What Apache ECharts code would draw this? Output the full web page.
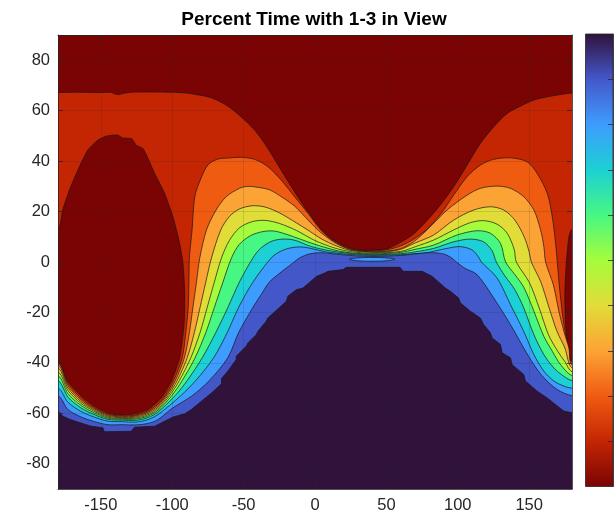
<!DOCTYPE html>
<html>
<head>
<meta charset="utf-8">
<script src="https://cdn.jsdelivr.net/npm/echarts@6/dist/echarts.min.js"></script>
<style>
  html, body { margin: 0; padding: 0; background: #ffffff; }
  #chart { width: 616px; height: 517px; }
</style>
</head>
<body>
<div id="chart"></div>
<script>
// Tick values
const X_TICKS = [-150, -100, -50, 0, 50, 100, 150];
const Y_TICKS = [-80, -60, -40, -20, 0, 20, 40, 60, 80];
const CBAR_TICKS = [10, 20, 30, 40, 50, 60, 70, 80, 90];

// Fill colours of the contour bands, lowest percentage first (reversed turbo)
const BAND_COLORS = ['#7a0403', '#c42503', '#f05b12', '#fca335', '#e2dc38',
                     '#a5fc3c', '#47f783', '#1cd0d5', '#3e9cfe', '#4457c9', '#30123b'];

// Contour lines as [longitude, latitude]; each band fills everything below its line
const RED_TOP = [[-180,67.2],[-165,67.3],[-150,67.2],[-143,67.3],[-140,66.6],[-137.5,66.4],[-134,66.9],
  [-129,67.3],[-115,67.4],[-100.6,67.3],[-90,67],[-84.2,66.5],[-72.5,65.1],[-61,61.8],[-51.7,57.5],
  [-42.3,52.3],[-33,45],[-23.7,36.4],[-14.3,27.8],[-4.9,19.9],[4.4,12.9],[13.8,8.4],[23.2,5.8],
  [32.5,4.75],[41.9,4.75],[51.2,5.4],[60.6,8.0],[69,11.1],[78.4,16.4],[87.8,22.6],[97.1,29.8],
  [106.5,38.4],[115.8,47],[125.2,53.6],[134.6,58.9],[143.9,61.8],[153.3,64.2],[162.7,65.5],[172,66.4],[180,67]];

// Zero-percent island in the west, and its wrap-around at the eastern edge
const WEST_ISLAND = [[-180,12.7],[-176.7,20.6],[-172,28.5],[-166.1,36.4],[-159.1,44.4],[-152.1,48.3],
  [-146.3,49.9],[-141,50.3],[-138.1,50.3],[-134.6,49.2],[-128.5,48.9],[-126.8,47.7],[-125.2,46.3],
  [-120.5,45],[-119,43.5],[-117,41.1],[-112.3,35.1],[-105.3,27.2],[-99.5,17.9],[-94.8,7.4],[-92.5,-0.5],
  [-91.3,-11.6],[-91.7,-24.8],[-94.8,-38],[-100.6,-47.3],[-107.6,-53.9],[-117,-58.5],[-126.4,-60.2],
  [-135.7,-60.7],[-145.1,-59.8],[-154.4,-57.2],[-163.8,-53.2],[-173.2,-47.3],[-180,-39.3]];
const EAST_SLIVER = [[180,13],[177.9,10],[176.8,4.75],[176,-0.5],[175,-11.6],[175.5,-24.8],[177.8,-35.4],[180,-39.3]];

const ORANGE_TOP = [[-180,-39.8],[-173,-48.2],[-164,-53.9],[-155,-57.6],[-145,-60.3],[-135,-61.1],[-126,-60.7],
  [-117,-59.1],[-110,-56.3],[-105,-53],[-99,-47],[-93,-38],[-90.5,-28],[-88.8,-18],[-88.3,-8],[-88,1.6],
  [-86.1,12.7],[-84.2,25.9],[-80,33],[-75,38.5],[-68,40.8],[-61,41.2],[-52,41.5],[-42.3,40.7],[-33,37.8],
  [-23.7,32.5],[-14.3,25.9],[-4.9,19.3],[4.4,12.5],[13.8,8.0],[23.2,5.4],[32.5,4.5],[42,4.4],[51,4.9],
  [60,6.4],[69,9],[78.5,13],[88,19],[97.1,26.5],[106.5,33.8],[115.8,38.4],[125.2,40.7],[136.9,41.3],
  [148.6,39.7],[155.6,35.1],[162.7,27.2],[166.2,17.9],[168.5,7.4],[169.7,0],[171.5,-11.6],[174.3,-24.8],
  [177.8,-35.4],[180,-39.8]];

const LIGHT_ORANGE_TOP = [[-180,-40.8],[-173,-49.1],[-164,-54.6],[-155,-58.1],[-145,-60.7],[-135,-61.4],
  [-126,-61.1],[-117,-59.6],[-110,-57],[-104,-53],[-97.8,-47],[-91.5,-38],[-88,-28],[-85.5,-18],[-83,-8],
  [-80.7,1.6],[-76,12.7],[-69.3,20.6],[-62.2,25.9],[-52.9,29.2],[-47,30],[-40,29.6],[-31.8,28.6],
  [-22.5,25.5],[-14,22],[-8.5,18.8],[0,13.8],[5.6,11],[15,7.3],[24.3,5.0],[34,4.2],[42,4.1],[50,4.3],
  [59.7,5.2],[69,8],[78.4,12.7],[92.5,20.6],[106.5,26.5],[115.8,29.2],[127.5,30.1],[136.9,29.2],
  [146.2,25.9],[153.3,20.6],[158,12.7],[160.3,6.1],[161.5,0],[166.9,-9],[170.8,-19.5],[174.3,-27.5],
  [177.8,-34.1],[180,-40.8]];

const YELLOW_TOP = [[-180,-42],[-173,-50],[-164,-55.3],[-155,-58.6],[-145,-61.1],[-135,-61.7],[-126,-61.5],
  [-117,-60.1],[-110,-57.6],[-103,-53],[-96.5,-47],[-89.5,-38],[-84.5,-28],[-80.5,-18],[-76.5,-8],
  [-72.5,1.6],[-66,12.7],[-60,18],[-53,21],[-44,22.3],[-35,21.8],[-25,19.5],[-13,15.5],[-4,12.3],[5,9],
  [14,6.6],[24,4.7],[34,4],[42,3.8],[50,4],[60,5],[70,7.5],[83.1,10.7],[97.1,16.6],[111.1,20.6],
  [122.8,21.9],[132.2,20.6],[140,16.6],[146.5,10],[150,4],[151.5,0],[158,-7.7],[164,-18.2],[169.5,-27.5],
  [175,-34.1],[180,-42]];

const YELLOW_GREEN_TOP = [[-180,-43.5],[-173,-51],[-164,-56],[-155,-59.1],[-145,-61.5],[-135,-62],
  [-126,-61.9],[-117,-60.6],[-110,-58.2],[-101.8,-53],[-95,-47],[-87,-38],[-80.5,-28],[-75.5,-18],
  [-70.5,-8],[-65.5,1.6],[-60,8.5],[-53,13.5],[-44,16],[-35,16.5],[-25,15.3],[-13,12.5],[0,8.5],[14,5.5],
  [24,4.2],[34,3.6],[42,3.5],[60,4.2],[70,6],[83.1,8.7],[97.1,12.7],[108.8,15.6],[118.1,16.4],[127.5,15],
  [134.6,11.4],[139.5,5],[141,0],[150,-8],[157,-18.2],[163.5,-28.8],[170,-35.4],[175,-39.5],[180,-43.5]];

const GREEN_TOP = [[-180,-45],[-173,-52.2],[-164,-56.8],[-155,-59.7],[-145,-61.9],[-135,-62.3],[-126,-62.3],
  [-117,-61.1],[-110,-58.8],[-100.3,-53],[-93,-47],[-84,-38],[-76.5,-28],[-70.5,-18],[-64.5,-8],
  [-58.5,1.6],[-53,7],[-45,10.5],[-37,12],[-29,12.3],[-20,11],[-10,9],[0,7],[14,4.7],[24,3.7],[34,3.3],
  [42,3.2],[60,3.8],[70,5],[83.1,6.7],[99.5,10.7],[113.5,12.4],[122.8,11.4],[129.9,7.4],[133.5,0],
  [140,-5],[146.2,-10],[153.3,-19.5],[160.3,-29.5],[166.2,-35.4],[172,-40.7],[180,-45]];

const TEAL_TOP = [[-180,-47],[-173,-53.6],[-164,-57.8],[-155,-60.4],[-145,-62.4],[-135,-62.7],[-126,-62.8],
  [-117,-61.7],[-110,-59.5],[-98,-53],[-89.5,-47],[-79,-38],[-69.5,-28],[-61,-18],[-53,-8],[-43.5,1.6],
  [-38,5.5],[-30,8.3],[-22,9.1],[-14,8.6],[-3,6.2],[10,4.5],[24,3.4],[34,3.0],[42,2.9],[60,3.3],[70,4],
  [83.1,5.4],[97.1,8],[108.8,9.1],[118.1,8],[124,4.5],[127,0],[133,-5.5],[140,-11],[146.2,-18.2],
  [153.3,-28.8],[160.3,-36.7],[167.3,-42],[174.3,-45.3],[180,-47]];

const LIGHT_BLUE_TOP = [[-180,-50],[-173,-55.6],[-164,-59.2],[-155,-61.4],[-145,-63.1],[-135,-63.3],
  [-126,-63.5],[-117,-62.5],[-110,-60.5],[-94,-53],[-83.5,-47],[-71,-38],[-61.5,-28],[-53.5,-18],
  [-43.5,-8],[-30.7,1.6],[-25,4],[-18,5.5],[-10,6],[-3,5.4],[8,4],[24,3.0],[34,2.7],[42,2.6],[60,2.9],
  [70,3.3],[78.4,3.7],[92.5,5.4],[101.8,6.1],[110,4.8],[114.5,2],[116.5,0],[127.5,-6.3],[136.9,-16.9],
  [146.2,-27.5],[153.3,-36.7],[160.3,-43.3],[167.3,-47.2],[174.3,-49.2],[180,-50]];

const BLUE_TOP = [[-180,-53],[-173,-58.5],[-164,-61.4],[-155,-63.2],[-145,-64.5],[-135,-64.5],[-126,-64.6],
  [-117,-64],[-110,-62.5],[-100,-58],[-86,-53],[-74,-47],[-61.1,-38],[-53.5,-28],[-43.5,-18],
  [-37.7,-12.9],[-32,-8],[-26,-5],[-18,-1.5],[-10.8,1.6],[-4,3.2],[4,3.7],[12,3.3],[24,2.6],[34,2.3],
  [42,2.2],[60,2.6],[73.7,3.4],[80.7,3.7],[90.1,3.2],[96,1.5],[99,0],[105,-2.5],[113.5,-5],[125.2,-14.3],
  [136.9,-24.8],[146.2,-34.1],[153.3,-40.7],[160.3,-45.9],[169.7,-50.6],[180,-53]];

// Small closed light-blue contour in the saddle
const SADDLE_LENS = [[24,1.1],[30,1.6],[40,1.8],[50,1.6],[56,1.1],[50,0.5],[40,0.3],[30,0.5]];

// Upper edge of the 100 % region (gridded, stair-stepped)
const PURPLE_TOP = [[-180,-59],[-176.7,-61.1],[-172,-62.3],[-166.2,-63.4],[-156.8,-65.1],[-148.6,-65.7],
  [-147.5,-67.3],[-128.7,-67.1],[-126.4,-65.5],[-112.3,-65.1],[-105.3,-63.1],[-99.5,-61.5],[-91.3,-60.2],
  [-86.6,-58.5],[-79.6,-55.2],[-72.5,-51.9],[-65.5,-48.3],[-65.5,-46.2],[-61.1,-43.3],[-55.2,-38.7],
  [-55.2,-37.4],[-48.2,-33.4],[-47,-32.1],[-41.2,-28.8],[-40,-27.5],[-34.2,-23.5],[-33,-22.2],
  [-20.1,-15.6],[-19,-13.6],[-13.1,-11],[-8.4,-10.3],[-0.2,-6.3],[0.9,-5.7],[6.8,-4.4],[9.1,-3.7],
  [19.7,-3.0],[22,-2.1],[59.5,-2.1],[61.8,-3.7],[75.1,-3.7],[82.1,-5.7],[91.3,-10.3],[94.8,-11.6],
  [100.6,-14.3],[101.8,-16.2],[108.8,-19.5],[115.8,-22.2],[118.1,-24.8],[122.9,-28.1],[124.1,-30.1],
  [129.9,-32.7],[131.1,-36],[136.9,-38],[138.1,-40.7],[146.2,-44.6],[147.4,-47.2],[155.6,-51.2],
  [162.7,-53.9],[169.7,-57.1],[174.3,-59.1],[180,-59.8]];

// Colour bar stops, top (100 %) to bottom (0 %)
const CBAR_COLORS = ['#30123b', '#4457c9', '#3e9cfe', '#1cd0d5', '#47f783', '#a5fc3c',
                     '#e2dc38', '#fca335', '#f05b12', '#c42503', '#7a0403'];

// ---- polygon construction (extends past the map edges; the series is clipped) ----
function fillBelow(line) {
  const a = line[0], b = line[line.length - 1];
  return [[-195, a[1]]].concat(line, [[195, b[1]], [195, -110], [-195, -110]]);
}
function closeWest(line) {
  const a = line[0], b = line[line.length - 1];
  return line.concat([[-195, b[1]], [-195, a[1]]]);
}
function closeEast(line) {
  const a = line[0], b = line[line.length - 1];
  return line.concat([[195, b[1]], [195, a[1]]]);
}

const SHAPES = [
  { pts: fillBelow(RED_TOP), color: BAND_COLORS[1], smooth: 0.3 },
  { pts: closeWest(WEST_ISLAND), color: BAND_COLORS[0], smooth: 0.2 },
  { pts: closeEast(EAST_SLIVER), color: BAND_COLORS[0], smooth: 0.2 },
  { pts: fillBelow(ORANGE_TOP), color: BAND_COLORS[2], smooth: 0.3 },
  { pts: fillBelow(LIGHT_ORANGE_TOP), color: BAND_COLORS[3], smooth: 0.3 },
  { pts: fillBelow(YELLOW_TOP), color: BAND_COLORS[4], smooth: 0.3 },
  { pts: fillBelow(YELLOW_GREEN_TOP), color: BAND_COLORS[5], smooth: 0.3 },
  { pts: fillBelow(GREEN_TOP), color: BAND_COLORS[6], smooth: 0.3 },
  { pts: fillBelow(TEAL_TOP), color: BAND_COLORS[7], smooth: 0.3 },
  { pts: fillBelow(LIGHT_BLUE_TOP), color: BAND_COLORS[8], smooth: 0.3 },
  { pts: fillBelow(BLUE_TOP), color: BAND_COLORS[9], smooth: 0.3 },
  { pts: SADDLE_LENS, color: BAND_COLORS[8], smooth: 0.4 },
  { pts: fillBelow(PURPLE_TOP), color: BAND_COLORS[10], smooth: 0 }
];

const AXIS_COLOR = '#262626';
const FONT = 'Liberation Sans, Arial, Helvetica, sans-serif';

function frameAxis(extra) {
  return Object.assign({
    type: 'value',
    z: 10,
    axisLine: { show: true, onZero: false, lineStyle: { color: AXIS_COLOR, width: 0.8 } },
    axisTick: { show: true, inside: true, length: 5, lineStyle: { color: AXIS_COLOR, width: 0.8 } },
    axisLabel: { show: false },
    splitLine: { show: false }
  }, extra);
}

const chart = echarts.init(document.getElementById('chart'), null, { renderer: 'canvas' });

chart.setOption({
  animation: false,
  backgroundColor: '#ffffff',
  title: {
    text: 'Percent Time with 1-3 in View',
    left: 309, top: 5, textAlign: 'center',
    textStyle: { fontFamily: FONT, fontWeight: 'bold', fontSize: 19, color: '#000000' }
  },
  grid: [
    { left: 58, top: 35, width: 514, height: 454, show: true, backgroundColor: BAND_COLORS[0], borderWidth: 0 },
    { left: 585.5, top: 34, width: 27.5, height: 452.5, show: false }
  ],
  xAxis: [
    frameAxis({
      gridIndex: 0, min: -180, max: 180, position: 'bottom',
      axisTick: { show: true, inside: true, length: 5, customValues: X_TICKS, lineStyle: { color: AXIS_COLOR, width: 0.8 } },
      axisLabel: { show: true, customValues: X_TICKS, color: AXIS_COLOR, fontSize: 16.5, fontFamily: FONT, margin: 8 },
      splitLine: { show: true, lineStyle: { color: 'rgba(38,38,38,0.15)', width: 1 } }
    }),
    frameAxis({
      gridIndex: 0, min: -180, max: 180, position: 'top',
      axisTick: { show: true, inside: true, length: 5, customValues: X_TICKS, lineStyle: { color: AXIS_COLOR, width: 0.8 } }
    }),
    { type: 'value', gridIndex: 1, min: 0, max: 1, show: false }
  ],
  yAxis: [
    frameAxis({
      gridIndex: 0, min: -90, max: 90, position: 'left',
      axisTick: { show: true, inside: true, length: 5, customValues: Y_TICKS, lineStyle: { color: AXIS_COLOR, width: 0.8 } },
      axisLabel: { show: true, customValues: Y_TICKS, color: AXIS_COLOR, fontSize: 16.5, fontFamily: FONT, margin: 8 },
      splitLine: { show: true, lineStyle: { color: 'rgba(38,38,38,0.15)', width: 1 } }
    }),
    frameAxis({
      gridIndex: 0, min: -90, max: 90, position: 'right',
      axisTick: { show: true, inside: true, length: 5, customValues: Y_TICKS, lineStyle: { color: AXIS_COLOR, width: 0.8 } }
    }),
    frameAxis({
      gridIndex: 1, min: 0, max: 100, position: 'right',
      axisTick: { show: true, inside: true, length: 5, customValues: CBAR_TICKS, lineStyle: { color: AXIS_COLOR, width: 0.8 } }
    })
  ],
  series: [
    {
      type: 'custom',
      xAxisIndex: 0, yAxisIndex: 0,
      clip: true,
      silent: true,
      data: SHAPES.map((s, i) => [i]),
      renderItem: function (params, api) {
        const s = SHAPES[params.dataIndex];
        return {
          type: 'polygon',
          z2: params.dataIndex,
          shape: { points: s.pts.map(p => api.coord(p)), smooth: s.smooth },
          style: { fill: s.color, stroke: '#151515', lineWidth: 0.7 }
        };
      }
    },
    {
      type: 'custom',
      xAxisIndex: 2, yAxisIndex: 2,
      silent: true,
      data: [[0]],
      renderItem: function (params, api) {
        const p0 = api.coord([0, 100]);
        const p1 = api.coord([1, 0]);
        const stops = CBAR_COLORS.map((c, i) => ({ offset: i / (CBAR_COLORS.length - 1), color: c }));
        return {
          type: 'rect',
          shape: { x: p0[0], y: p0[1], width: p1[0] - p0[0], height: p1[1] - p0[1] },
          style: { fill: new echarts.graphic.LinearGradient(0, 0, 0, 1, stops), stroke: AXIS_COLOR, lineWidth: 0.8 }
        };
      }
    }
  ]
});
</script>
</body>
</html>
